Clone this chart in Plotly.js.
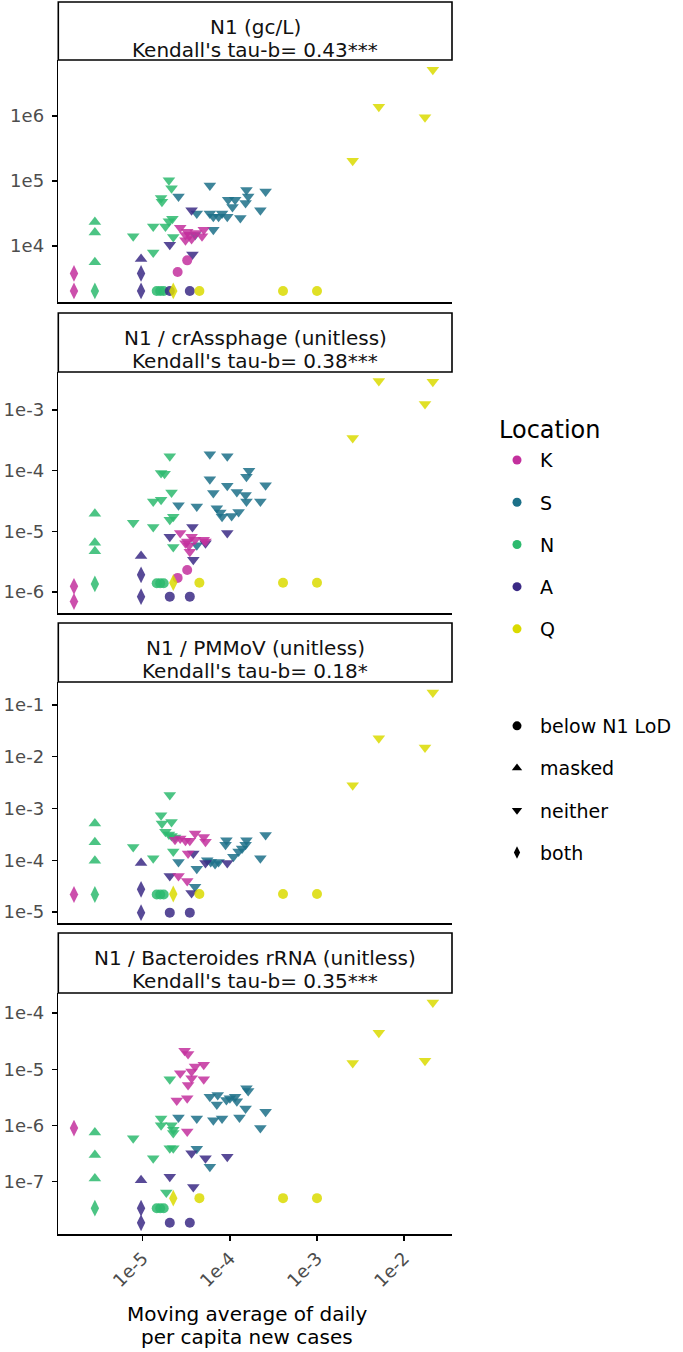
<!DOCTYPE html>
<html>
<head>
<meta charset="utf-8">
<script src="https://cdn.plot.ly/plotly-3.0.1.min.js"></script>
<style>
  body { margin: 0; background: #fff; }
  #grafico { width: 683px; height: 1352px; }
</style>
</head>
<body>
<div id="grafico"></div>
<script>
// valores en log10: [x, y, estado]  (b = below N1 LoD, m = masked, n = neither, d = both)
const K1 = [[-5.79,3.58,'d'],[-5.79,3.31,'d'],[-4.60,3.60,'b'],[-4.49,3.78,'b'],
  [-4.57,4.28,'n'],[-4.51,4.17,'n'],[-4.49,4.22,'n'],[-4.46,4.17,'n'],[-4.44,4.11,'n'],
  [-4.51,4.09,'n'],[-4.39,4.20,'n'],[-4.30,4.25,'n'],[-4.32,4.15,'n']];
const S1 = [[-4.59,4.76,'n'],[-4.23,4.93,'n'],[-4.38,4.50,'n'],[-4.23,4.50,'n'],[-4.19,4.45,'n'],
  [-4.13,4.45,'n'],[-4.09,4.50,'n'],[-4.03,4.45,'n'],[-4.02,4.71,'n'],[-3.94,4.71,'n'],
  [-3.97,4.60,'n'],[-3.88,4.43,'n'],[-3.82,4.66,'n'],[-3.81,4.86,'n'],[-3.79,4.76,'n'],
  [-3.65,4.55,'n'],[-3.59,4.84,'n'],[-4.40,4.17,'n'],[-4.19,4.25,'n']];
const N1 = [[-5.55,4.37,'m'],[-5.55,4.21,'m'],[-5.55,3.75,'m'],[-5.55,3.31,'d'],
  [-4.84,3.31,'b'],[-4.80,3.31,'b'],[-4.76,3.31,'b'],
  [-4.70,5.01,'n'],[-4.67,4.89,'n'],[-4.79,4.74,'n'],[-4.78,4.68,'n'],[-5.11,4.15,'n'],
  [-4.88,4.30,'n'],[-4.74,4.30,'n'],[-4.70,4.38,'n'],[-4.66,4.42,'n'],[-4.65,4.14,'n'],[-4.88,3.90,'n']];
const A1 = [[-5.02,3.80,'m'],[-5.02,3.58,'d'],[-5.02,3.31,'d'],[-4.69,3.31,'b'],[-4.46,3.31,'b'],
  [-4.69,4.02,'n'],[-4.43,3.87,'n'],[-4.44,4.55,'n']];
const Q1 = [[-4.65,3.31,'d'],[-4.35,3.31,'b'],[-3.39,3.31,'b'],[-3.00,3.31,'b'],
  [-1.67,6.71,'n'],[-2.29,6.14,'n'],[-1.76,5.98,'n'],[-2.59,5.31,'n']];

const K2 = [[-5.79,-5.91,'d'],[-5.79,-6.16,'d'],[-4.60,-5.77,'b'],[-4.49,-5.64,'b'],
  [-4.57,-5.03,'n'],[-4.49,-5.17,'n'],[-4.44,-5.09,'n'],[-4.40,-5.14,'n'],[-4.47,-5.24,'n'],
  [-4.46,-5.34,'n'],[-4.30,-5.14,'n'],[-4.28,-5.17,'n'],[-4.51,-5.20,'n']];
const S2 = [[-4.23,-3.73,'n'],[-4.03,-3.76,'n'],[-3.78,-4.00,'n'],[-3.81,-4.10,'n'],[-4.23,-4.14,'n'],
  [-3.59,-4.24,'n'],[-4.03,-4.25,'n'],[-3.92,-4.35,'n'],[-3.82,-4.40,'n'],[-4.19,-4.37,'n'],
  [-3.81,-4.51,'n'],[-3.65,-4.51,'n'],[-4.59,-4.57,'n'],[-4.38,-4.59,'n'],[-4.15,-4.62,'n'],
  [-4.11,-4.69,'n'],[-4.09,-4.76,'n'],[-3.98,-4.75,'n'],[-3.90,-4.68,'n'],[-4.38,-5.23,'n']];
const N2 = [[-5.55,-4.71,'m'],[-5.55,-5.19,'m'],[-5.55,-5.33,'m'],[-5.55,-5.87,'d'],
  [-4.84,-5.86,'b'],[-4.80,-5.86,'b'],[-4.76,-5.86,'b'],
  [-4.69,-3.76,'n'],[-4.79,-4.04,'n'],[-4.75,-4.05,'n'],[-4.88,-4.51,'n'],[-4.79,-4.48,'n'],
  [-4.67,-4.36,'n'],[-5.11,-4.86,'n'],[-4.88,-4.93,'n'],[-4.69,-4.81,'n'],[-4.65,-4.76,'n'],[-4.65,-5.26,'n']];
const A2 = [[-5.02,-5.41,'m'],[-5.02,-5.72,'d'],[-5.02,-6.08,'d'],[-4.69,-6.08,'b'],[-4.46,-6.08,'b'],
  [-4.69,-5.09,'n'],[-4.43,-4.93,'n'],[-4.42,-5.47,'n'],[-4.28,-5.20,'n'],[-4.03,-5.03,'n']];
const Q2 = [[-4.65,-5.85,'d'],[-4.35,-5.85,'b'],[-3.39,-5.85,'b'],[-3.00,-5.85,'b'],
  [-2.29,-2.52,'n'],[-1.67,-2.53,'n'],[-1.76,-2.90,'n'],[-2.59,-3.46,'n']];

const K3 = [[-5.79,-4.66,'d'],
  [-4.57,-3.58,'n'],[-4.51,-3.62,'n'],[-4.46,-3.62,'n'],[-4.40,-3.48,'n'],[-4.30,-3.55,'n'],
  [-4.28,-3.64,'n'],[-4.48,-3.87,'n'],[-4.59,-4.30,'n'],[-4.49,-4.40,'n'],[-4.63,-3.60,'n']];
const S3 = [[-4.59,-4.03,'n'],[-4.38,-4.16,'n'],[-4.26,-4.00,'n'],[-4.22,-4.03,'n'],[-4.17,-4.07,'n'],
  [-4.13,-4.03,'n'],[-4.04,-3.61,'n'],[-4.05,-3.70,'n'],[-3.96,-3.93,'n'],[-3.90,-3.83,'n'],
  [-3.86,-3.77,'n'],[-3.82,-3.70,'n'],[-3.81,-3.61,'n'],[-3.59,-3.51,'n'],[-3.65,-3.96,'n'],[-4.40,-4.51,'n']];
const N3 = [[-5.55,-3.29,'m'],[-5.55,-3.65,'m'],[-5.55,-4.01,'m'],[-5.55,-4.66,'d'],
  [-4.84,-4.66,'b'],[-4.80,-4.66,'b'],[-4.76,-4.66,'b'],
  [-4.69,-2.74,'n'],[-4.79,-3.13,'n'],[-4.67,-3.26,'n'],[-4.78,-3.29,'n'],[-4.74,-3.45,'n'],
  [-4.70,-3.50,'n'],[-4.67,-3.53,'n'],[-4.63,-3.56,'n'],[-5.11,-3.74,'n'],[-4.88,-3.96,'n'],[-4.65,-3.83,'n']];
const A3 = [[-5.02,-4.05,'m'],[-5.02,-4.56,'d'],[-5.02,-5.01,'d'],[-4.69,-5.01,'b'],[-4.46,-5.01,'b'],
  [-4.69,-4.30,'n'],[-4.42,-3.87,'n'],[-4.28,-4.05,'n'],[-4.03,-4.05,'n'],[-4.44,-4.63,'n']];
const Q3 = [[-4.65,-4.65,'d'],[-4.35,-4.65,'b'],[-3.39,-4.65,'b'],[-3.00,-4.65,'b'],
  [-1.67,-0.76,'n'],[-2.29,-1.64,'n'],[-1.76,-1.82,'n'],[-2.59,-2.55,'n']];

const K4 = [[-5.79,-6.05,'d'],
  [-4.52,-4.67,'n'],[-4.48,-4.73,'n'],[-4.40,-4.95,'n'],[-4.30,-4.92,'n'],[-4.57,-5.07,'n'],
  [-4.44,-5.16,'n'],[-4.30,-5.18,'n'],[-4.48,-5.28,'n'],[-4.49,-5.52,'n'],[-4.61,-5.56,'n'],
  [-4.49,-6.11,'n'],[-4.44,-5.04,'n']];
const S4 = [[-4.59,-5.86,'n'],[-4.38,-5.88,'n'],[-4.38,-6.42,'n'],[-4.23,-5.49,'n'],[-4.14,-5.46,'n'],
  [-4.15,-5.63,'n'],[-4.19,-5.91,'n'],[-4.09,-5.88,'n'],[-4.04,-5.55,'n'],[-4.00,-5.52,'n'],
  [-3.94,-5.49,'n'],[-3.92,-5.57,'n'],[-3.82,-5.70,'n'],[-3.81,-5.34,'n'],[-3.79,-5.39,'n'],
  [-3.89,-5.86,'n'],[-3.59,-5.76,'n'],[-3.65,-6.05,'n'],[-4.23,-6.74,'n']];
const N4 = [[-5.55,-6.13,'m'],[-5.55,-6.53,'m'],[-5.55,-6.95,'m'],[-5.55,-7.48,'d'],
  [-4.84,-7.48,'b'],[-4.80,-7.48,'b'],[-4.76,-7.48,'b'],
  [-4.69,-5.18,'n'],[-4.79,-5.88,'n'],[-4.79,-6.00,'n'],[-4.67,-6.00,'n'],[-4.65,-6.08,'n'],
  [-4.65,-6.14,'n'],[-5.11,-6.23,'n'],[-4.88,-6.59,'n'],[-4.69,-6.41,'n'],[-4.65,-6.41,'n'],[-4.73,-7.20,'n']];
const A4 = [[-5.02,-6.98,'m'],[-5.02,-7.48,'d'],[-5.02,-7.74,'d'],[-4.69,-7.74,'b'],[-4.46,-7.74,'b'],
  [-4.69,-6.92,'n'],[-4.44,-6.50,'n'],[-4.42,-7.10,'n'],[-4.28,-6.59,'n'],[-4.03,-6.56,'n']];
const Q4 = [[-4.65,-7.30,'d'],[-4.35,-7.30,'b'],[-3.39,-7.30,'b'],[-3.00,-7.30,'b'],
  [-1.67,-3.81,'n'],[-2.29,-4.35,'n'],[-1.76,-4.85,'n'],[-2.59,-4.89,'n']];

const ubicaciones = ['K', 'S', 'N', 'A', 'Q'];
const colores = { K: '#c3309d', S: '#1c7088', N: '#2dba6e', A: '#3b2a85', Q: '#dada00' };
const estados = ['b', 'm', 'n', 'd'];
const nombresEstado = ['below N1 LoD', 'masked', 'neither', 'both'];
const simbolos = { b: 'circle', m: 'triangle-up', n: 'triangle-down', d: 'diamond-tall' };
const tamanos = { b: 10, m: 11, n: 11, d: 12 };

const titulos = ['N1 (gc/L)', 'N1 / crAssphage (unitless)', 'N1 / PMMoV (unitless)', 'N1 / Bacteroides rRNA (unitless)'];
const taus = ["Kendall's tau-b= 0.43***", "Kendall's tau-b= 0.38***", "Kendall's tau-b= 0.18*", "Kendall's tau-b= 0.35***"];
const ticksY = [[1e4, 1e5, 1e6], [1e-6, 1e-5, 1e-4, 1e-3], [1e-5, 1e-4, 1e-3, 1e-2, 1e-1], [1e-7, 1e-6, 1e-5, 1e-4]];
const etiquetasY = [['1e4', '1e5', '1e6'], ['1e-6', '1e-5', '1e-4', '1e-3'],
  ['1e-5', '1e-4', '1e-3', '1e-2', '1e-1'], ['1e-7', '1e-6', '1e-5', '1e-4']];
const ticksX = [1e-5, 1e-4, 1e-3, 1e-2];
const etiquetasX = ['1e-5', '1e-4', '1e-3', '1e-2'];

const datos = [
  { K: K1, S: S1, N: N1, A: A1, Q: Q1 },
  { K: K2, S: S2, N: N2, A: A2, Q: Q2 },
  { K: K3, S: S3, N: N3, A: A3, Q: Q3 },
  { K: K4, S: S4, N: N4, A: A4, Q: Q4 }
];

// rangos (log10) y posiciones en px
const rangosY = [[3.14, 6.86], [-6.35, -2.37], [-5.21, -0.556], [-7.94, -3.64]];
const rangoX = [-5.97, -1.45];
const W = 683, H = 1352;
const panelPx = [[60, 302], [372, 613], [682, 923], [993, 1234]];
const stripPx = [[2, 60], [313, 372], [623, 682], [933, 993]];
const izq = 58.3, der = 452;
const py = (p) => 1 - p / H;
const fuente = 'DejaVu Sans';

const trazas = [];
const layout = {
  width: W, height: H,
  margin: { l: 0, r: 0, t: 0, b: 0 },
  paper_bgcolor: '#fff', plot_bgcolor: '#fff',
  font: { family: fuente, color: '#000' },
  showlegend: true,
  shapes: [], annotations: []
};

const ordenDibujo = ['S', 'N', 'A', 'K', 'Q'];
for (let i = 0; i < 4; i++) {
  const sx = i === 0 ? '' : String(i + 1);
  ordenDibujo.forEach(loc => {
    const pts = datos[i][loc];
    trazas.push({
      x: pts.map(p => Math.pow(10, p[0])),
      y: pts.map(p => Math.pow(10, p[1])),
      xaxis: 'x' + sx, yaxis: 'y' + sx,
      type: 'scatter', mode: 'markers', showlegend: false, hoverinfo: 'skip',
      marker: {
        color: colores[loc], opacity: 0.85,
        symbol: pts.map(p => simbolos[p[2]]),
        size: pts.map(p => tamanos[p[2]]),
        line: { width: 0 }
      }
    });
  });

  layout['xaxis' + sx] = {
    type: 'log', range: rangoX, domain: [izq / W, der / W], anchor: 'y' + sx,
    matches: i === 0 ? undefined : 'x',
    showline: true, linecolor: '#000', linewidth: 1.6, mirror: false,
    showgrid: false, zeroline: false,
    ticks: i === 3 ? 'outside' : '', ticklen: 5, tickcolor: '#000', tickwidth: 1.4,
    showticklabels: i === 3, tickvals: ticksX, ticktext: etiquetasX, tickangle: -45,
    tickfont: { family: fuente, size: 18, color: '#4d4d4d' }
  };
  layout['yaxis' + sx] = {
    type: 'log', range: rangosY[i], domain: [py(panelPx[i][1]), py(panelPx[i][0])], anchor: 'x' + sx,
    showline: true, linecolor: '#000', linewidth: 1.6,
    showgrid: false, zeroline: false,
    ticks: 'outside', ticklen: 5, tickcolor: '#000', tickwidth: 1.4,
    ticklabelstandoff: 4,
    tickvals: ticksY[i], ticktext: etiquetasY[i],
    tickfont: { family: fuente, size: 18, color: '#4d4d4d' }
  };

  layout.shapes.push({
    type: 'rect', xref: 'paper', yref: 'paper',
    x0: izq / W, x1: der / W, y0: py(stripPx[i][1]), y1: py(stripPx[i][0]),
    line: { color: '#000', width: 1.6 }, fillcolor: '#fff'
  });
  layout.annotations.push({
    xref: 'paper', yref: 'paper', x: (izq + der) / 2 / W, y: py(stripPx[i][0] + 25),
    text: titulos[i], showarrow: false, xanchor: 'center', yanchor: 'middle',
    font: { family: fuente, size: 20, color: '#111' }
  });
  layout.annotations.push({
    xref: 'paper', yref: 'paper', x: (izq + der) / 2 / W, y: py(stripPx[i][0] + 48),
    text: taus[i], showarrow: false, xanchor: 'center', yanchor: 'middle',
    font: { family: fuente, size: 20, color: '#111' }
  });
}

layout.annotations.push({
  xref: 'paper', yref: 'paper', x: 247 / W, y: py(1314),
  text: 'Moving average of daily', showarrow: false, xanchor: 'center', yanchor: 'middle',
  font: { family: fuente, size: 20, color: '#000' }
});
layout.annotations.push({
  xref: 'paper', yref: 'paper', x: 247 / W, y: py(1337),
  text: 'per capita new cases', showarrow: false, xanchor: 'center', yanchor: 'middle',
  font: { family: fuente, size: 20, color: '#000' }
});

// leyenda: colores (Location) y formas
ubicaciones.forEach((loc, j) => {
  trazas.push({
    x: [null], y: [null], type: 'scatter', mode: 'markers', name: loc,
    legend: 'legend', legendgroup: 'loc' + j,
    legendgrouptitle: j === 0 ? { text: 'Location', font: { family: fuente, size: 24 } } : undefined,
    marker: { color: colores[loc], size: 9, symbol: 'circle' }
  });
});
estados.forEach((e, j) => {
  trazas.push({
    x: [null], y: [null], type: 'scatter', mode: 'markers', name: nombresEstado[j],
    legend: 'legend2', legendgroup: 'est' + j,
    marker: { color: '#000', size: 9, symbol: simbolos[e] }
  });
});

layout.legend = {
  x: 494 / W, y: py(407), xanchor: 'left', yanchor: 'top', itemwidth: 36,
  traceorder: 'grouped', tracegroupgap: 14.5, bgcolor: 'rgba(0,0,0,0)',
  font: { family: fuente, size: 19, color: '#000' }
};
layout.legend2 = {
  x: 494 / W, y: py(707), xanchor: 'left', yanchor: 'top', itemwidth: 36,
  traceorder: 'grouped', tracegroupgap: 14.5, bgcolor: 'rgba(0,0,0,0)',
  font: { family: fuente, size: 19, color: '#000' }
};

Plotly.newPlot('grafico', trazas, layout, { displayModeBar: false, staticPlot: true });
</script>
</body>
</html>
